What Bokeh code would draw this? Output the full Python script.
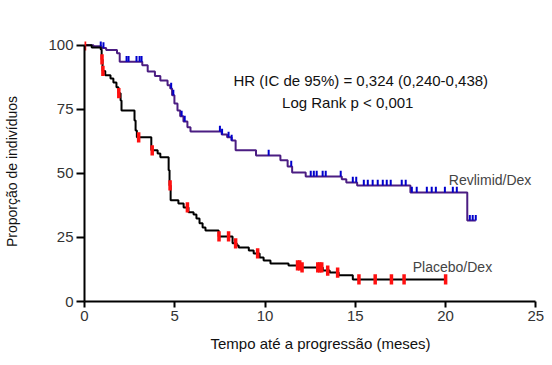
import numpy as np
from bokeh.plotting import figure
from bokeh.models import Range1d, Label, FixedTicker, Title
from bokeh.embed import file_html
from bokeh.resources import INLINE

# ---- data ----
rev_t = [0, 0.5, 0.95, 1.2, 1.8, 1.95, 3.2, 3.5, 3.9, 4.2, 4.6, 4.75, 4.85, 4.98, 5.15,
         5.3, 5.48, 5.7, 5.87, 7.6, 7.9, 8.15, 8.37, 9.5, 10.85, 11.25, 11.5, 12.25,
         14.25, 14.5, 15.1, 18.05, 21.2]
rev_s = [100, 99.6, 99.0, 98.2, 96.9, 93.6, 92.2, 89.8, 88.0, 86.3, 84.4, 83.2, 80.5,
         77.3, 74.6, 72.3, 70.3, 68.0, 66.4, 65.2, 64.1, 62.9, 59.0, 57.0, 55.1, 52.7,
         50.4, 48.8, 47.7, 46.5, 45.3, 42.6, 31.6]
rev_end = 21.67
rev_cens = [0.9, 1.05, 2.33, 2.44, 2.88, 3.05, 3.16, 4.8, 4.92, 5.38, 5.55, 7.5, 7.62,
            7.98, 8.15, 10.2, 11.45, 12.53, 12.7, 12.86, 13.19, 13.36, 14.19, 14.86,
            15.05, 15.47, 15.69, 15.96, 16.24, 16.52, 16.74, 16.96, 17.57, 17.79, 18.13,
            18.4, 18.96, 19.23, 19.46, 19.96, 20.4, 20.62, 21.34, 21.5, 21.67]

pla_t = [0, 0.4, 0.9, 0.95, 1.0, 1.15, 1.44, 1.6, 1.77, 1.88, 2.0, 2.05, 2.77, 2.83,
         2.9, 3.7, 4.05, 4.2, 4.66, 4.71, 4.77, 5.2, 5.49, 5.76, 6.04, 6.2, 6.37, 6.54,
         6.7, 7.43, 8.2, 8.43, 8.54, 9.1, 9.37, 9.7, 9.92, 10.3, 11.3, 12.0, 13.2,
         13.58, 14.08, 14.86]
pla_s = [100, 99.2, 98.4, 94.5, 90.0, 88.3, 87.1, 85.5, 83.6, 81.3, 78.5, 74.6, 70.7,
         66.8, 64.1, 59.0, 57.8, 56.3, 51.2, 45.3, 39.5, 38.3, 36.7, 34.8, 34.0, 32.4,
         30.5, 28.9, 27.7, 25.4, 22.7, 21.9, 21.1, 19.9, 18.75, 17.2, 16.0, 14.8, 14.1,
         13.3, 12.1, 11.3, 10.2, 8.6]
pla_end = 20.0
pla_cens = [0.0, 0.97, 1.02, 1.9, 3.0, 3.75, 4.74, 5.7, 7.45, 7.98, 8.37, 9.59, 11.8,
            11.92, 12.05, 12.92, 13.03, 13.14, 13.47, 14.02, 15.2, 16.1, 17.0, 17.7, 20.0]

x_ticks = [0, 5, 10, 15, 20, 25]
y_ticks = [0, 25, 50, 75, 100]


def surv_at(times, surv, t):
    idx = np.searchsorted(np.array(times), np.array(t), side="right") - 1
    return np.array(surv)[idx]


font = "Liberation Sans"

p = figure(frame_width=455, frame_height=260, output_backend="svg",
           toolbar_location=None,
           x_range=Range1d(0, 25.2), y_range=Range1d(0, 101.5),
           min_border_left=84, min_border_right=5, min_border_top=41,
           min_border_bottom=60)
p.outline_line_color = None
p.grid.visible = False
p.background_fill_color = "white"

for ax in (p.xaxis[0], p.yaxis[0]):
    ax.axis_line_width = 2
    ax.axis_line_color = "black"
    ax.major_tick_line_width = 2
    ax.major_tick_line_color = "black"
    ax.minor_tick_line_color = None
    ax.major_tick_in = 0
    ax.major_label_text_font = font
    ax.major_label_text_font_size = "15px"
    ax.major_label_text_color = "#333333"

p.xaxis.bounds = (0, 25)
p.yaxis.bounds = (0, 100)
p.xaxis.ticker = FixedTicker(ticks=x_ticks)
p.yaxis.ticker = FixedTicker(ticks=y_ticks)
p.xaxis.major_tick_out = 6
p.yaxis.major_tick_out = 8
p.xaxis.major_label_standoff = 3
p.yaxis.major_label_standoff = 3

p.yaxis.axis_label = "Proporção de indivíduos"
p.yaxis.axis_label_text_font = font
p.yaxis.axis_label_text_font_size = "14px"
p.yaxis.axis_label_text_font_style = "normal"
p.yaxis.axis_label_text_color = "#111111"
p.yaxis.axis_label_standoff = 25

# Revlimid/Dex curve
rx = rev_t + [rev_end]
ry = rev_s + [rev_s[-1]]
p.step(rx, ry, mode="after", line_color="#4b1d82", line_width=2)
rc_y = surv_at(rev_t, rev_s, rev_cens)
p.segment(x0=rev_cens, y0=rc_y, x1=rev_cens, y1=rc_y + 2.2,
          line_color="#0000cc", line_width=2)

# Placebo/Dex curve
px_ = pla_t + [pla_end]
py_ = pla_s + [pla_s[-1]]
p.step(px_, py_, mode="after", line_color="black", line_width=2)
pc_y = surv_at(pla_t, pla_s, pla_cens)
p.segment(x0=pla_cens, y0=pc_y - 2, x1=pla_cens, y1=pc_y + 2,
          line_color="#ff1010", line_width=3.5)

p.add_layout(Label(x=15.3, y=86.3, text="HR (IC de 95%) = 0,324 (0,240-0,438)",
                   text_align="center", text_baseline="alphabetic",
                   text_font=font, text_font_size="15px", text_color="#111111"))
p.add_layout(Label(x=14.58, y=77.8, text="Log Rank p < 0,001",
                   text_align="center", text_baseline="alphabetic",
                   text_font=font, text_font_size="15px", text_color="#111111"))
p.add_layout(Label(x=20.18, y=47.3, text="Revlimid/Dex",
                   text_align="left", text_baseline="alphabetic",
                   text_font=font, text_font_size="14px", text_color="#444444"))
p.add_layout(Label(x=18.18, y=13.3, text="Placebo/Dex",
                   text_align="left", text_baseline="alphabetic",
                   text_font=font, text_font_size="14px", text_color="#444444"))

# x axis title (left-aligned with offset to match the original placement)
p.add_layout(Title(text="Tempo até a progressão (meses)", align="left", offset=126,
                   text_font=font, text_font_size="15px", text_font_style="normal",
                   text_color="#111111", standoff=18), "below")

open("out.html", "w").write(file_html(p, INLINE))
